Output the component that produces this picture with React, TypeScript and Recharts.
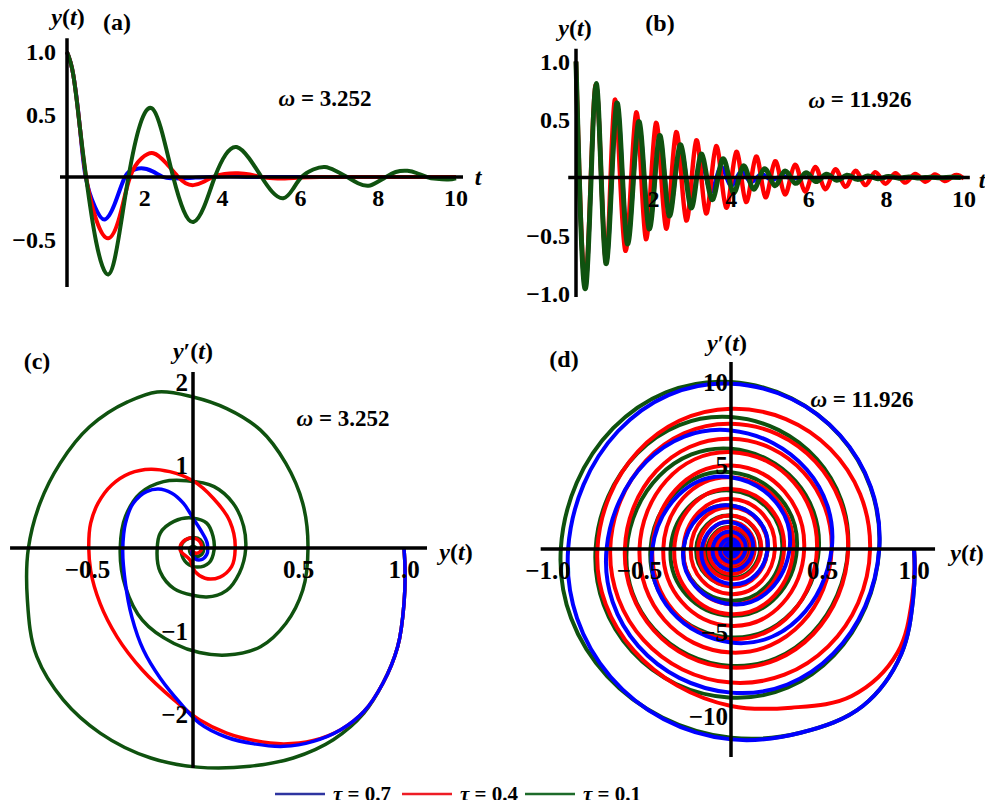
import React from 'react';
import { LineChart, Line, XAxis, YAxis, ReferenceDot } from 'recharts';

type P = [number, number];

const BLUE = '#0000ff';
const RED = '#ff0000';
const GREEN = '#0f520f';
const FONT = '"Liberation Serif", "Times New Roman", serif';

// ---------- Panel (a): y(t), omega = 3.252 ----------
const aBlue: P[] = [[0,1.0],[0.16,0.82],[0.33,0.40],[0.48,0],[0.72,-0.24],[0.96,-0.34],[1.22,-0.22],[1.49,0],[1.7,0.055],[1.91,0.07],[2.2,0.045],[2.47,0],[2.7,-0.01],[2.95,-0.012],[3.3,-0.005],[3.7,0],[4.2,0.005],[4.7,0],[5.2,0],[5.7,0],[6.2,0],[6.7,0],[7.2,0],[7.7,0],[8.2,0],[8.7,0],[9.2,0],[9.7,0],[10,0]];
const aRed: P[] = [[0,1.0],[0.16,0.82],[0.33,0.40],[0.49,0],[0.75,-0.34],[1.06,-0.49],[1.35,-0.32],[1.62,0],[1.92,0.15],[2.22,0.19],[2.55,0.11],[2.86,0],[3.05,-0.05],[3.25,-0.065],[3.5,-0.04],[3.75,0],[4.05,0.025],[4.4,0.03],[4.7,0.02],[5.0,0],[5.3,-0.01],[5.6,-0.012],[6.0,-0.005],[6.5,0],[7,0],[7.5,0],[8,0],[8.5,0],[9,0],[9.5,0],[10,0]];
const aGreen: P[] = [[0,1.0],[0.16,0.82],[0.33,0.40],[0.49,0],[0.75,-0.52],[1.06,-0.78],[1.32,-0.5],[1.58,0],[1.88,0.42],[2.18,0.55],[2.45,0.35],[2.73,0],[3.0,-0.27],[3.25,-0.36],[3.52,-0.24],[3.8,0],[4.08,0.18],[4.36,0.24],[4.68,0.15],[5.0,0],[5.28,-0.12],[5.56,-0.17],[5.8,-0.1],[6.03,0],[6.33,0.06],[6.63,0.08],[6.9,0.05],[7.2,0],[7.48,-0.05],[7.75,-0.07],[7.98,-0.04],[8.2,0],[8.45,0.04],[8.75,0.05],[9.0,0.03],[9.25,0],[9.5,-0.015],[9.8,-0.02],[10,-0.01]];

// ---------- Panel (b): y(t), omega = 11.926 ----------
const bBlue: P[] = [[0,1.0],[0.26,-0.92],[0.52,0.8],[0.77,-0.73],[1.05,0.62],[1.32,-0.55],[1.61,0.46],[1.88,-0.42],[2.15,0.34],[2.4,-0.3],[2.68,0.25],[2.95,-0.2],[3.2,0.14],[3.46,-0.12],[3.72,0.09],[3.98,-0.07],[4.24,0.05],[4.5,-0.04],[4.76,0.03],[5.02,-0.02],[5.28,0.013],[5.54,-0.008],[5.8,0.005],[6.06,-0.003],[6.32,0]];
const bRed: P[] = [[0,1.0],[0.26,-0.88],[0.515,0.8],[0.77,-0.73],[1.0,0.67],[1.27,-0.63],[1.55,0.56],[1.8,-0.53],[2.06,0.47],[2.32,-0.44],[2.58,0.39],[2.84,-0.37],[3.1,0.32],[3.35,-0.31],[3.61,0.27],[3.87,-0.26],[4.13,0.22],[4.38,-0.21],[4.64,0.18],[4.88,-0.17],[5.13,0.14],[5.38,-0.145],[5.64,0.11],[5.9,-0.12],[6.16,0.09],[6.42,-0.1],[6.68,0.07],[6.94,-0.08],[7.2,0.057],[7.45,-0.065],[7.71,0.046],[7.97,-0.053],[8.23,0.037],[8.48,-0.044],[8.74,0.03],[9.0,-0.036],[9.25,0.025],[9.5,-0.03],[9.77,0.02],[10.0,-0.01]];
const bGreen: P[] = [[0,1.0],[0.26,-0.93],[0.52,0.81],[0.77,-0.74],[1.05,0.64],[1.32,-0.57],[1.61,0.48],[1.88,-0.44],[2.15,0.36],[2.4,-0.33],[2.68,0.28],[2.96,-0.26],[3.22,0.2],[3.5,-0.19],[3.78,0.16],[4.05,-0.13],[4.31,0.1],[4.57,-0.1],[4.85,0.075],[5.12,-0.07],[5.38,0.055],[5.65,-0.05],[5.92,0.04],[6.18,-0.035],[6.45,0.028],[6.72,-0.024],[6.98,0.02],[7.25,-0.016],[7.52,0.013],[7.78,-0.01],[8.05,0.008],[8.32,-0.006],[8.58,0.005],[8.85,-0.004],[9.12,0.003],[9.38,-0.002],[9.65,0.002],[9.92,-0.001]];

// ---------- Panel (c): phase plane, omega = 3.252 ----------
const cBlue: P[] = [[1.0,0],[1.0,-0.67],[0.97,-1.19],[0.9,-1.63],[0.81,-1.97],[0.7,-2.19],[0.57,-2.33],[0.43,-2.39],[0.29,-2.36],[0.16,-2.28],[0.03,-2.11],[-0.06,-1.87],[-0.155,-1.57],[-0.235,-1.23],[-0.29,-0.83],[-0.32,-0.43],[-0.333,-0.02],[-0.32,0.3],[-0.283,0.54],[-0.22,0.68],[-0.165,0.71],[-0.1,0.66],[-0.046,0.54],[0,0.36],[0.04,0.2],[0.068,0.05],[0.065,-0.08],[0.04,-0.14],[0.01,-0.13],[-0.005,-0.06],[0.005,0]];
const cRed: P[] = [[1.0,0],[1.0,-0.67],[0.97,-1.19],[0.9,-1.63],[0.81,-1.97],[0.7,-2.19],[0.57,-2.32],[0.43,-2.36],[0.29,-2.32],[0.16,-2.23],[0.03,-2.07],[-0.09,-1.83],[-0.24,-1.47],[-0.36,-1.07],[-0.44,-0.67],[-0.485,-0.27],[-0.494,0],[-0.485,0.3],[-0.45,0.54],[-0.385,0.76],[-0.3,0.9],[-0.2,0.95],[-0.11,0.92],[0,0.81],[0.096,0.6],[0.175,0.32],[0.2,0],[0.183,-0.225],[0.128,-0.35],[0.057,-0.365],[0.01,-0.285],[-0.014,-0.145],[-0.062,0],[-0.038,0.096],[0.01,0.117],[0.04,0.036],[0.033,-0.045],[0.01,-0.06],[-0.005,-0.01],[0.005,0]];
const cGreen: P[] = [[1.0,0],[1.0,-0.67],[0.97,-1.19],[0.9,-1.63],[0.81,-1.99],[0.665,-2.31],[0.475,-2.53],[0.27,-2.63],[0.02,-2.64],[-0.2,-2.53],[-0.44,-2.23],[-0.615,-1.83],[-0.74,-1.31],[-0.785,-0.62],[-0.78,0],[-0.725,0.54],[-0.63,1.02],[-0.49,1.46],[-0.31,1.76],[-0.17,1.88],[0,1.82],[0.16,1.68],[0.32,1.42],[0.44,1.02],[0.52,0.54],[0.545,0],[0.52,-0.51],[0.44,-0.91],[0.32,-1.19],[0.16,-1.29],[0.03,-1.26],[-0.09,-1.15],[-0.24,-0.87],[-0.32,-0.47],[-0.345,0],[-0.32,0.38],[-0.25,0.66],[-0.14,0.8],[-0.03,0.81],[0.1,0.74],[0.19,0.54],[0.24,0.26],[0.25,0],[0.22,-0.3],[0.16,-0.51],[0.065,-0.59],[0,-0.57],[-0.09,-0.49],[-0.155,-0.29],[-0.17,-0.02],[-0.155,0.18],[-0.09,0.32],[0,0.36],[0.065,0.3],[0.095,0.14],[0.1,-0.02],[0.075,-0.18],[0.02,-0.23],[-0.03,-0.18],[-0.055,-0.06],[-0.05,0.06],[-0.015,0.12],[0.035,0.1],[0.05,0.02],[0.04,-0.08],[0.01,-0.1],[-0.015,-0.05],[-0.01,0.01],[0.015,0]];

// ---------- Panel (d): phase plane, omega = 11.926 ----------
const dBlue: P[] = [[1.0,0],[0.995,-3.0],[0.93,-6.3],[0.72,-9.4],[0.38,-11.0],[0,-11.4],[-0.89,0],[0,9.9],[0.81,0],[0,-8.6],[-0.68,0],[0,7.1],[0.55,0],[0,-5.6],[-0.43,0],[0,4.3],[0.32,0],[0,-3.3],[-0.26,0],[0,2.6],[0.2,0],[0,-2.1],[-0.16,0],[0,1.6],[0.12,0],[0,-1.27],[-0.1,0],[0,1.03],[0.08,0],[0,-0.8],[-0.06,0],[0,0.6],[0.045,0],[0,-0.46],[-0.035,0],[0,0.35],[0.025,0],[0,-0.26],[-0.02,0],[0,0.2],[0.014,0],[0,-0.14],[-0.01,0],[0,0.1],[0.007,0]];
const dRed: P[] = [[1.0,0],[0.99,-3.0],[0.91,-6.2],[0.66,-8.8],[0.33,-9.5],[0,-9.4],[-0.73,0],[0,8.4],[0.76,0],[0,-8.0],[-0.66,0],[0,7.5],[0.64,0],[0,-7.1],[-0.58,0],[0,6.6],[0.55,0],[0,-6.2],[-0.5,0],[0,5.8],[0.47,0],[0,-5.4],[-0.43,0],[0,5.0],[0.4,0],[0,-4.6],[-0.37,0],[0,4.3],[0.34,0],[0,-3.9],[-0.31,0],[0,3.6],[0.29,0],[0,-3.3],[-0.26,0],[0,3.0],[0.24,0],[0,-2.7],[-0.22,0],[0,2.5],[0.2,0],[0,-2.25],[-0.18,0],[0,2.0],[0.165,0],[0,-1.8],[-0.15,0],[0,1.65],[0.13,0],[0,-1.5],[-0.12,0],[0,1.3],[0.11,0],[0,-1.2],[-0.095,0],[0,1.05],[0.085,0],[0,-0.95],[-0.075,0],[0,0.85],[0.065,0],[0,-0.75],[-0.055,0],[0,0.6],[0.045,0],[0,-0.5],[-0.035,0],[0,0.4],[0.03,0]];
const dGreen: P[] = [[1.0,0],[0.995,-3.0],[0.93,-6.3],[0.72,-9.4],[0.38,-11.0],[0,-11.3],[-0.93,0],[0,10.0],[0.81,0],[0,-8.9],[-0.74,0],[0,7.9],[0.64,0],[0,-7.0],[-0.57,0],[0,6.0],[0.48,0],[0,-5.3],[-0.44,0],[0,4.6],[0.36,0],[0,-4.0],[-0.33,0],[0,3.5],[0.28,0],[0,-3.1],[-0.26,0],[0,2.6],[0.2,0],[0,-2.2],[-0.19,0],[0,2.0],[0.16,0],[0,-1.7],[-0.13,0],[0,1.3],[0.1,0],[0,-1.15],[-0.1,0],[0,1.0],[0.075,0],[0,-0.83],[-0.07,0],[0,0.72],[0.055,0],[0,-0.6],[-0.05,0],[0,0.52],[0.04,0],[0,-0.43],[-0.035,0],[0,0.36],[0.028,0]];

// ---------- tick labels ----------
const aXTicks = [2, 4, 6, 8, 10];
const aYTicks = [1.0, 0.5, -0.5];
const bXTicks = [2, 4, 6, 8, 10];
const bYTicks = [1.0, 0.5, -0.5, -1.0];
const cXTicks = [-0.5, 0.5, 1.0];
const cYTicks = [2, 1, -1, -2];
const dXTicks = [-1.0, -0.5, 0.5, 1.0];
const dYTicks = [10, 5, -5, -10];

const legendItems = [
  { label: '0.7', color: '#2e34a0' },
  { label: '0.4', color: '#ee1c25' },
  { label: '0.1', color: '#1d6b2a' },
];

const toPts = (arr: P[]) => arr.map(([x, y]) => ({ x, y }));
const fmt1 = (v: number) => (v < 0 ? '\u2212' : '') + Math.abs(v).toFixed(1);
const fmt0 = (v: number) => (v < 0 ? '\u2212' : '') + String(Math.abs(v));

// Smooth curve through points (pixel space) made of arc-like cubic pieces,
// used for the phase portraits so that loops come out round.
function arcCurve(context: any) {
  let pts: number[][] = [];
  return {
    areaStart() {},
    areaEnd() {},
    lineStart() { pts = []; },
    point(x: number, y: number) { pts.push([+x, +y]); },
    lineEnd() {
      const n = pts.length;
      if (n === 0) return;
      context.moveTo(pts[0][0], pts[0][1]);
      if (n === 1) return;
      if (n === 2) { context.lineTo(pts[1][0], pts[1][1]); return; }
      const T: number[][] = new Array(n);
      for (let i = 1; i < n - 1; i++) {
        const ax = pts[i][0] - pts[i - 1][0], ay = pts[i][1] - pts[i - 1][1];
        const bx = pts[i + 1][0] - pts[i][0], by = pts[i + 1][1] - pts[i][1];
        const la = Math.hypot(ax, ay) || 1, lb = Math.hypot(bx, by) || 1;
        const tx = (ax / la) * lb + (bx / lb) * la;
        const ty = (ay / la) * lb + (by / lb) * la;
        const lt = Math.hypot(tx, ty) || 1;
        T[i] = [tx / lt, ty / lt];
      }
      const reflect = (t: number[], p: number[], q: number[]) => {
        let dx = q[0] - p[0], dy = q[1] - p[1];
        const l = Math.hypot(dx, dy) || 1;
        dx /= l; dy /= l;
        const k = t[0] * dx + t[1] * dy;
        return [2 * k * dx - t[0], 2 * k * dy - t[1]];
      };
      T[0] = reflect(T[1], pts[0], pts[1]);
      T[n - 1] = reflect(T[n - 2], pts[n - 2], pts[n - 1]);
      const hf = (phi: number) => (phi < 1e-4 ? 1 / 3 : ((4 / 3) * Math.tan(phi / 4)) / (2 * Math.sin(phi / 2)));
      for (let i = 0; i < n - 1; i++) {
        const p = pts[i], q = pts[i + 1];
        const c = Math.hypot(q[0] - p[0], q[1] - p[1]);
        const dot = T[i][0] * T[i + 1][0] + T[i][1] * T[i + 1][1];
        const phi = Math.acos(Math.max(-1, Math.min(1, dot)));
        const h = hf(phi) * c;
        context.bezierCurveTo(
          p[0] + T[i][0] * h, p[1] + T[i][1] * h,
          q[0] - T[i + 1][0] * h, q[1] - T[i + 1][1] * h,
          q[0], q[1]
        );
      }
    },
  };
}

interface Spec {
  left: number; top: number; width: number; height: number;
  ox: number; oy: number; sx: number; sy: number;
  xDom: [number, number]; yDom: [number, number];
  xAxis: [number, number]; yAxis: [number, number];
}

const specA: Spec = { left: 0, top: 0, width: 490, height: 300, ox: 67, oy: 177, sx: 38.9, sy: 125, xDom: [-0.3, 10.5], yDom: [-0.95, 1.2], xAxis: [-0.18, 10.18], yAxis: [-0.88, 1.11] };
const specB: Spec = { left: 490, top: 0, width: 503, height: 310, ox: 576, oy: 177.5, sx: 38.8, sy: 116, xDom: [-0.3, 10.5], yDom: [-1.1, 1.2], xAxis: [-0.2, 10.15], yAxis: [-1.03, 1.11] };
const specC: Spec = { left: 0, top: 330, width: 490, height: 450, ox: 193, oy: 548, sx: 211, sy: 83, xDom: [-0.9, 1.12], yDom: [-2.75, 2.35], xAxis: [-0.867, 1.109], yAxis: [-2.65, 2.12] };
const specD: Spec = { left: 495, top: 330, width: 498, height: 450, ox: 731, oy: 549, sx: 183, sy: 16.7, xDom: [-1.2, 1.25], yDom: [-13, 12], xAxis: [-1.04, 1.115], yAxis: [-12.45, 11.2] };

function margins(s: Spec) {
  return {
    left: s.ox + s.xDom[0] * s.sx - s.left,
    right: s.left + s.width - (s.ox + s.xDom[1] * s.sx),
    top: s.oy - s.yDom[1] * s.sy - s.top,
    bottom: s.top + s.height - (s.oy - s.yDom[0] * s.sy),
  };
}

const Yt = () => (<><tspan fontStyle="italic">y</tspan>(<tspan fontStyle="italic">t</tspan>)</>);
const Ypt = () => (<><tspan fontStyle="italic">y</tspan>{'\u2032'}(<tspan fontStyle="italic">t</tspan>)</>);
const Omega = ({ v }: { v: string }) => (<><tspan fontStyle="italic">{'\u03C9'}</tspan>{' = ' + v}</>);

function txt(key: string, x: number, y: number, dx: number, dy: number, content: React.ReactNode, size: number, anchor: string = 'middle') {
  return (
    <ReferenceDot
      key={key}
      x={x}
      y={y}
      r={0}
      ifOverflow="visible"
      isFront
      shape={(p: any) => (
        <text
          x={p.cx + dx}
          y={p.cy + dy}
          textAnchor={anchor}
          dominantBaseline="central"
          fontFamily={FONT}
          fontWeight="bold"
          fontSize={size}
          fill="#000"
        >
          {content}
        </text>
      )}
    />
  );
}

interface Series { data: P[]; color: string; width: number; }

interface PanelProps {
  spec: Spec;
  series: Series[];
  curve: any;
  xTicks: number[];
  yTicks: number[];
  xFmt: (v: number) => string;
  yFmt: (v: number) => string;
  tickSize: number;
  xLabelDy: number;
  yLabelDx: number;
  axisWidth: number;
  extras: React.ReactNode[];
}

function Panel({ spec, series, curve, xTicks, yTicks, xFmt, yFmt, tickSize, xLabelDy, yLabelDx, axisWidth, extras }: PanelProps) {
  const m = margins(spec);
  return (
    <div style={{ position: 'absolute', left: spec.left, top: spec.top }}>
      <LineChart width={spec.width} height={spec.height} margin={m}>
        <XAxis type="number" dataKey="x" domain={spec.xDom} allowDataOverflow hide />
        <YAxis type="number" dataKey="y" domain={spec.yDom} allowDataOverflow hide />
        {series.map((s, i) => (
          <Line
            key={'s' + i}
            data={toPts(s.data)}
            dataKey="y"
            type={curve}
            stroke={s.color}
            strokeWidth={s.width}
            dot={false}
            activeDot={false}
            isAnimationActive={false}
          />
        ))}
        <Line
          key="xaxis"
          data={toPts([[spec.xAxis[0], 0], [spec.xAxis[1], 0]])}
          dataKey="y"
          type="linear"
          stroke="#000"
          strokeWidth={axisWidth}
          dot={false}
          activeDot={false}
          isAnimationActive={false}
        />
        <Line
          key="yaxis"
          data={toPts([[0, spec.yAxis[0]], [0, spec.yAxis[1]]])}
          dataKey="y"
          type="linear"
          stroke="#000"
          strokeWidth={axisWidth}
          dot={false}
          activeDot={false}
          isAnimationActive={false}
        />
        {xTicks.map((v) => txt('xt' + v, v, 0, 0, xLabelDy, xFmt(v), tickSize))}
        {yTicks.map((v) => txt('yt' + v, 0, v, yLabelDx, 0, yFmt(v), tickSize, 'end'))}
        {extras}
      </LineChart>
    </div>
  );
}

export default function App() {
  return (
    <div style={{ position: 'relative', width: 993, height: 808, margin: -8, background: '#fff', overflow: 'hidden' }}>
      <Panel
        spec={specA}
        curve="natural"
        series={[
          { data: aBlue, color: BLUE, width: 4 },
          { data: aRed, color: RED, width: 4 },
          { data: aGreen, color: GREEN, width: 4 },
        ]}
        xTicks={aXTicks}
        yTicks={aYTicks}
        xFmt={fmt0}
        yFmt={fmt1}
        tickSize={24}
        xLabelDy={21}
        yLabelDx={-11}
        axisWidth={3.5}
        extras={[
          txt('a-y', 0, 0, 1, -160, <Yt />, 24),
          txt('a-id', 0, 0, 50, -155, '(a)', 24),
          txt('a-t', 0, 0, 411, 0, <tspan fontStyle="italic">t</tspan>, 24),
          txt('a-w', 0, 0, 258, -79, <Omega v="3.252" />, 23),
        ]}
      />
      <Panel
        spec={specB}
        curve="natural"
        series={[
          { data: bBlue, color: BLUE, width: 4 },
          { data: bRed, color: RED, width: 4.5 },
          { data: bGreen, color: GREEN, width: 5 },
        ]}
        xTicks={bXTicks}
        yTicks={bYTicks}
        xFmt={fmt0}
        yFmt={fmt1}
        tickSize={24}
        xLabelDy={21}
        yLabelDx={-6}
        axisWidth={3.5}
        extras={[
          txt('b-y', 0, 0, -1, -150, <Yt />, 24),
          txt('b-id', 0, 0, 84, -155, '(b)', 24),
          txt('b-t', 0, 0, 406, 2, <tspan fontStyle="italic">t</tspan>, 24),
          txt('b-w', 0, 0, 284, -78, <Omega v="11.926" />, 23),
        ]}
      />
      <Panel
        spec={specC}
        curve={arcCurve}
        series={[
          { data: cGreen, color: GREEN, width: 3.5 },
          { data: cRed, color: RED, width: 3.5 },
          { data: cBlue, color: BLUE, width: 3.5 },
        ]}
        xTicks={cXTicks}
        yTicks={cYTicks}
        xFmt={fmt1}
        yFmt={fmt0}
        tickSize={25}
        xLabelDy={21}
        yLabelDx={-5}
        axisWidth={3.5}
        extras={[
          txt('c-y', 0, 0, 0, -197, <Ypt />, 24),
          txt('c-id', 0, 0, -156, -187, '(c)', 24),
          txt('c-x', 0, 0, 263, 4, <Yt />, 24),
          txt('c-w', 0, 0, 150, -130, <Omega v="3.252" />, 23),
        ]}
      />
      <Panel
        spec={specD}
        curve={arcCurve}
        series={[
          { data: dGreen, color: GREEN, width: 4 },
          { data: dRed, color: RED, width: 4 },
          { data: dBlue, color: BLUE, width: 4 },
        ]}
        xTicks={dXTicks}
        yTicks={dYTicks}
        xFmt={fmt1}
        yFmt={fmt0}
        tickSize={25}
        xLabelDy={21}
        yLabelDx={-3}
        axisWidth={3.5}
        extras={[
          txt('d-y', 0, 0, -4, -206, <Ypt />, 24),
          txt('d-id', 0, 0, -167, -190, '(d)', 24),
          txt('d-x', 0, 0, 236, 4, <Yt />, 24),
          txt('d-w', 0, 0, 131, -150, <Omega v="11.926" />, 23),
        ]}
      />
      <svg style={{ position: 'absolute', left: 0, top: 778 }} width={993} height={30}>
        {legendItems.map((it, i) => {
          const x0 = [275, 402, 525][i];
          return (
            <g key={it.label}>
              <line x1={x0} x2={x0 + 50} y1={16} y2={16} stroke={it.color} strokeWidth={2.5} />
              <text x={x0 + 58} y={16} dominantBaseline="central" fontFamily={FONT} fontWeight="bold" fontSize={21} fill="#000">
                <tspan fontStyle="italic">{'\u03C4'}</tspan>{' = ' + it.label}
              </text>
            </g>
          );
        })}
      </svg>
    </div>
  );
}
